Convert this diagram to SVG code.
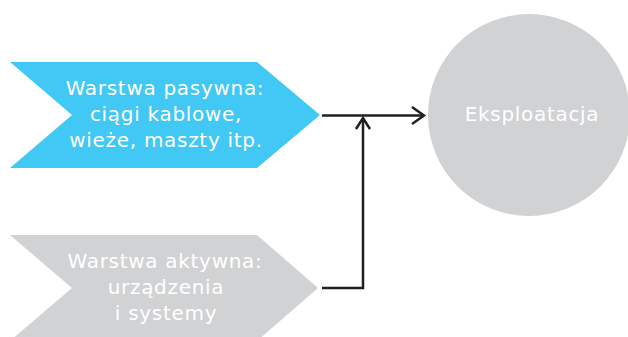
<svg xmlns="http://www.w3.org/2000/svg" width="628" height="337" viewBox="0 0 628 337">
  <style>
    .lbl { font-family: "DejaVu Sans", Verdana, sans-serif; font-size: 20px; letter-spacing: 0.7px; fill: #ffffff; text-anchor: middle; }
    .wire { fill: none; stroke: #231f20; stroke-width: 2.5; }
    .head { fill: none; stroke: #231f20; stroke-width: 2.5; stroke-linecap: butt; stroke-linejoin: miter; }
  </style>
  <rect width="628" height="337" fill="#ffffff"/>

  <g id="passive-layer">
    <polygon points="10,62 257,62 320,115 257,168 10,168 72,115" fill="#41c8f4"/>
    <text class="lbl" x="165" y="95">Warstwa pasywna:</text>
    <text class="lbl" x="166" y="121">ciągi kablowe,</text>
    <text class="lbl" x="166" y="147">wieże, maszty itp.</text>
  </g>

  <g id="active-layer">
    <polygon points="10,235 257,235 318,288 257,341 10,341 72,288" fill="#d1d2d4"/>
    <text class="lbl" x="165" y="268">Warstwa aktywna:</text>
    <text class="lbl" x="166" y="294">urządzenia</text>
    <text class="lbl" x="166" y="320">i systemy</text>
  </g>

  <g id="operation">
    <circle cx="529" cy="115" r="101" fill="#d1d2d4"/>
    <text class="lbl" x="532" y="121">Eksploatacja</text>
  </g>

  <g id="connectors">
    <path class="wire" d="M322,115.5 H424"/>
    <path class="head" d="M412,107 L424,115.5 L412,124"/>
    <path class="wire" d="M322,288 H363 V118"/>
    <path class="head" d="M356,129 L363,118 L370,129"/>
  </g>
</svg>
